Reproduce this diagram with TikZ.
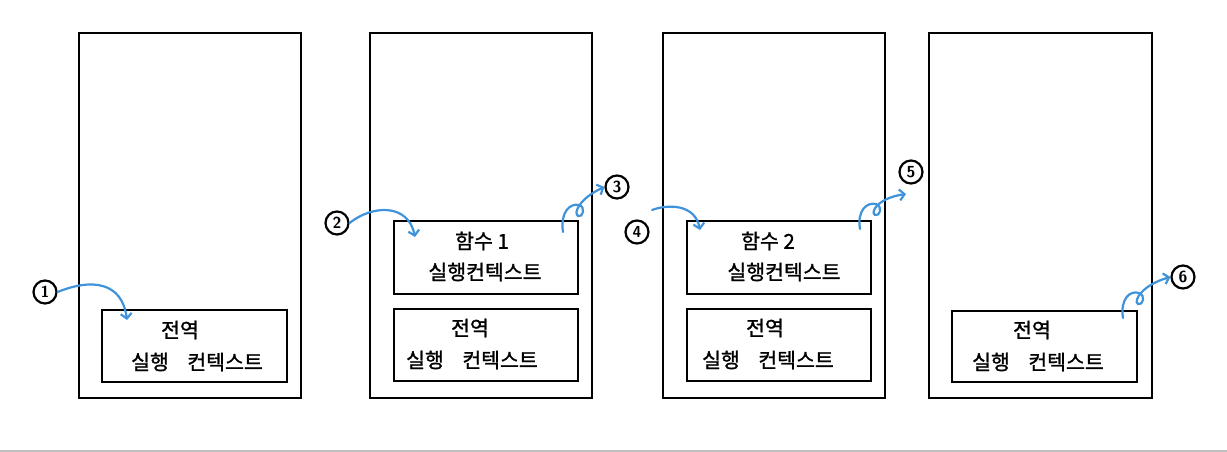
\documentclass[tikz,border=0pt]{standalone}
\usepackage{fontspec}
\newfontfamily\kr[AutoFakeBold=1.2]{Noto Sans CJK KR}
\usetikzlibrary{arrows.meta}
\definecolor{arrowblue}{HTML}{3F93DB}
\tikzset{
  frame/.style={draw=black, line width=2pt},
  ctxbox/.style={draw=black, line width=2pt},
  txt/.style={font=\kr\bfseries\fontsize{20.5}{22}\selectfont, inner sep=0pt},
  numlabel/.style={draw=black, circle, line width=2.2pt, minimum size=23pt, inner sep=0pt, font=\sffamily\bfseries\fontsize{16}{16}\selectfont},
  flow/.style={draw=arrowblue, line width=2.2pt, line cap=round, -{Straight Barb[length=5pt,width=11pt,line width=2.2pt]}},
}
\begin{document}
\begin{tikzpicture}[x=1pt,y=-1pt]
\useasboundingbox (0,0) rectangle (1227,452);
\fill[white] (0,0) rectangle (1227,452);
\draw[gray!50, line width=1.5pt] (0,451) -- (1227,451);

% panel 1
\draw[frame] (79,33) rectangle (301,398);
\node[ctxbox, minimum width=185pt, minimum height=72pt, anchor=north west] (g1) at (101,309) {};
\node[txt] (g1a) at (180,330) {전역};
\node[txt] (g1b) at (197,362) {실행\hspace{0.9em}컨텍스트};
\node[numlabel] (n1) at (45,292) {1};
\coordinate (e1) at (127,320);
\draw[flow] (n1.east) .. controls (92,278) and (122,282) .. (e1);

% panel 2
\draw[frame] (370,33) rectangle (592,398);
\node[ctxbox, minimum width=184pt, minimum height=73pt, anchor=north west] (f1) at (393,220) {};
\node[txt] (f1a) at (482,241) {함수 1};
\node[txt] (f1b) at (485,272) {실행컨텍스트};
\node[ctxbox, minimum width=184pt, minimum height=72pt, anchor=north west] (g2) at (393,308) {};
\node[txt] (g2a) at (470,328) {전역};
\node[txt] (g2b) at (472,360) {실행\hspace{0.9em}컨텍스트};
\node[numlabel] (n2) at (337,223) {2};
\coordinate (e2) at (415,237);
\draw[flow] (n2.east) .. controls (372,205) and (408,203) .. (e2);
\node[numlabel] (n3) at (617,187) {3};
\coordinate (s3) at (563,232);
\draw[flow] (s3) .. controls (560,212) and (570,203) .. (579,205)
  .. controls (586,207) and (583,218) .. (578,216)
  .. controls (573,213) and (580,198) .. (n3.west);

% panel 3
\draw[frame] (663,33) rectangle (885,398);
\node[ctxbox, minimum width=184pt, minimum height=73pt, anchor=north west] (f2) at (686,220) {};
\node[txt] (f2a) at (768,241) {함수 2};
\node[txt] (f2b) at (784,272) {실행컨텍스트};
\node[ctxbox, minimum width=184pt, minimum height=72pt, anchor=north west] (g3) at (686,308) {};
\node[txt] (g3a) at (765,328) {전역};
\node[txt] (g3b) at (768,360) {실행\hspace{0.9em}컨텍스트};
\node[numlabel] (n4) at (637,232) {4};
\coordinate (e4) at (700,230);
\draw[flow] (652,210) .. controls (668,204) and (695,204) .. (e4);
\node[numlabel] (n5) at (911,172) {5};
\coordinate (s5) at (860,229);
\draw[flow] (s5) .. controls (857,210) and (867,202) .. (876,204)
  .. controls (883,206) and (880,217) .. (875,215)
  .. controls (870,212) and (878,198) .. (906,194);

% panel 4
\draw[frame] (929,33) rectangle (1152,398);
\node[ctxbox, minimum width=185pt, minimum height=71pt, anchor=north west] (g4) at (951,310) {};
\node[txt] (g4a) at (1032,330) {전역};
\node[txt] (g4b) at (1038,362) {실행\hspace{0.9em}컨텍스트};
\node[numlabel] (n6) at (1183,277) {6};
\coordinate (s6) at (1123,318);
\draw[flow] (s6) .. controls (1120,299) and (1130,290) .. (1139,293)
  .. controls (1146,295) and (1143,306) .. (1138,304)
  .. controls (1133,301) and (1142,285) .. (n6.west);
\end{tikzpicture}
\end{document}
